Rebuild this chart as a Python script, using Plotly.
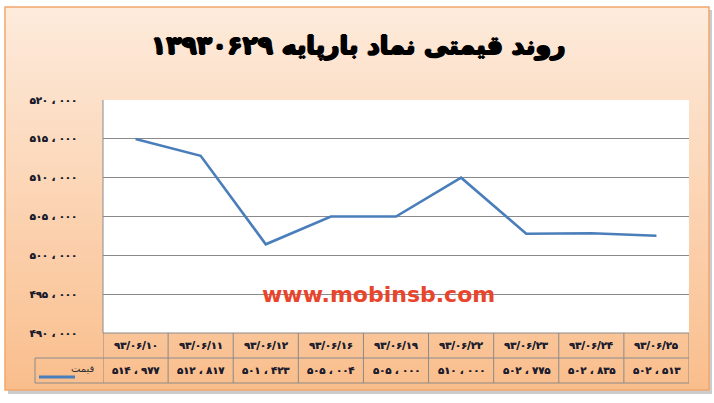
import plotly.graph_objects as go

# ---------------- data ----------------
dates = ["۹۳/۰۶/۱۰", "۹۳/۰۶/۱۱", "۹۳/۰۶/۱۲", "۹۳/۰۶/۱۶", "۹۳/۰۶/۱۹",
         "۹۳/۰۶/۲۲", "۹۳/۰۶/۲۳", "۹۳/۰۶/۲۴", "۹۳/۰۶/۲۵"]
prices = [514977, 512817, 501423, 505004, 505000, 510000, 502775, 502835, 502513]
price_labels = ["۵۱۴ ، ۹۷۷", "۵۱۲ ، ۸۱۷", "۵۰۱ ، ۴۲۳", "۵۰۵ ، ۰۰۴", "۵۰۵ ، ۰۰۰",
                "۵۱۰ ، ۰۰۰", "۵۰۲ ، ۷۷۵", "۵۰۲ ، ۸۳۵", "۵۰۲ ، ۵۱۳"]
y_tickvals = [490000, 495000, 500000, 505000, 510000, 515000, 520000]
y_ticktext = ["۴۹۰ ، ۰۰۰", "۴۹۵ ، ۰۰۰", "۵۰۰ ، ۰۰۰", "۵۰۵ ، ۰۰۰",
              "۵۱۰ ، ۰۰۰", "۵۱۵ ، ۰۰۰", "۵۲۰ ، ۰۰۰"]
series_name = "قیمت"
title_text = "روند قیمتی نماد بارپایه ۱۳۹۳۰۶۲۹"
watermark = "www.mobinsb.com"

# ---------------- geometry helpers (figure px -> paper) ----------------
W, H = 714, 403
L, R, T, B = 103, 689, 99, 334
def px(x):
    return (x - L) / (R - L)
def py(y):
    return (B - y) / (B - T)

FONT = "DejaVu Sans"
LINE_BLUE = "#4A7EBB"
GRID = "#8A8A8A"
TXT = "#1E1E2E"
LIGHT_SH = "0.3px 0 0 {c}"
HEAVY_SH = "1px 0 0 {c}, -1px 0 0 {c}, 0 0.7px 0 {c}, 0 -0.7px 0 {c}"

n = len(dates)
xs = list(range(n))

fig = go.Figure()
fig.add_trace(go.Scatter(x=xs, y=prices, mode="lines", name=series_name,
                         line=dict(color=LINE_BLUE, width=2.6),
                         hoverinfo="skip", showlegend=False))

shapes = []
# shadow
shapes.append(dict(type="rect", xref="paper", yref="paper", layer="below",
                   x0=px(8), x1=px(712), y0=py(394), y1=py(10),
                   fillcolor="#CCCCCC", line=dict(width=0)))
# gradient background
top_c = (253, 235, 220)
bot_c = (250, 190, 140)
y_top, y_bot = 7, 390
N = 48
for i in range(N):
    t = (i + 0.5) / N
    c = tuple(int(round(top_c[k] + (bot_c[k] - top_c[k]) * t)) for k in range(3))
    ya = y_top + (y_bot - y_top) * i / N
    yb = y_top + (y_bot - y_top) * (i + 1) / N + 0.6
    shapes.append(dict(type="rect", xref="paper", yref="paper", layer="below",
                       x0=px(5), x1=px(709), y0=py(min(yb, y_bot)), y1=py(ya),
                       fillcolor="rgb(%d,%d,%d)" % c, line=dict(width=0)))
# outer border
shapes.append(dict(type="rect", xref="paper", yref="paper", layer="below",
                   x0=px(5), x1=px(709), y0=py(390), y1=py(7),
                   fillcolor="rgba(0,0,0,0)", line=dict(color="#F2A66E", width=1.5)))
# white plot area
shapes.append(dict(type="rect", xref="paper", yref="paper", layer="below",
                   x0=0, x1=1, y0=py(333), y1=py(100), fillcolor="white", line=dict(width=0)))

# data table borders
row1_top, row1_bot, row2_bot = 333, 358, 383
tb = dict(color=GRID, width=1)
shapes.append(dict(type="line", xref="paper", yref="paper", layer="above",
                   x0=0, x1=1, y0=py(row1_top), y1=py(row1_top), line=tb))
shapes.append(dict(type="line", xref="paper", yref="paper", layer="above",
                   x0=px(35), x1=1, y0=py(row1_bot), y1=py(row1_bot), line=tb))
shapes.append(dict(type="line", xref="paper", yref="paper", layer="above",
                   x0=px(35), x1=1, y0=py(row2_bot), y1=py(row2_bot), line=tb))
shapes.append(dict(type="line", xref="paper", yref="paper", layer="above",
                   x0=px(35), x1=px(35), y0=py(row1_bot), y1=py(row2_bot), line=tb))
for k in range(n + 1):
    shapes.append(dict(type="line", xref="x", yref="paper", layer="above",
                       x0=k - 0.5, x1=k - 0.5, y0=py(row1_top), y1=py(row2_bot), line=tb))
# left plot-area border
shapes.append(dict(type="line", xref="paper", yref="paper", layer="above",
                   x0=0, x1=0, y0=py(333), y1=py(100), line=tb))
# legend key line
shapes.append(dict(type="line", xref="paper", yref="paper", layer="above",
                   x0=px(39), x1=px(75), y0=py(377), y1=py(377),
                   line=dict(color=LINE_BLUE, width=3)))

annotations = []
annotations.append(dict(text=title_text, xref="paper", yref="paper",
                        x=px(358), y=py(46), showarrow=False,
                        xanchor="center", yanchor="middle",
                        font=dict(family=FONT, size=25, color="#000000", weight="bold",
                                  shadow=HEAVY_SH.format(c="#000"))))
annotations.append(dict(text=watermark, xref="paper", yref="paper",
                        x=px(378), y=py(294), showarrow=False,
                        xanchor="center", yanchor="middle",
                        font=dict(family=FONT, size=22, color="#E8452C", weight="bold")))
for i in range(n):
    annotations.append(dict(text=dates[i], xref="x", yref="paper",
                            x=i, y=py((row1_top + row1_bot) / 2), showarrow=False,
                            xanchor="center", yanchor="middle",
                            font=dict(family=FONT, size=10, color=TXT, weight="bold",
                                      shadow=LIGHT_SH.format(c=TXT))))
    annotations.append(dict(text=price_labels[i], xref="x", yref="paper",
                            x=i, y=py((row1_bot + row2_bot) / 2), showarrow=False,
                            xanchor="center", yanchor="middle",
                            font=dict(family=FONT, size=10, color=TXT, weight="bold",
                                      shadow=LIGHT_SH.format(c=TXT))))
annotations.append(dict(text=series_name, xref="paper", yref="paper",
                        x=px(97), y=py(368), showarrow=False,
                        xanchor="right", yanchor="middle",
                        font=dict(family=FONT, size=10, color="#333333")))

# y range padded by one pixel each side so the 490k/520k gridlines are drawn
ypad = 30000 / 233
fig.update_layout(
    width=W, height=H,
    margin=dict(l=L, r=W - R, t=T, b=H - B, pad=0),
    paper_bgcolor="white", plot_bgcolor="rgba(0,0,0,0)",
    showlegend=False,
    shapes=shapes, annotations=annotations,
    xaxis=dict(range=[-0.5, n - 0.5], showgrid=False, zeroline=False,
               showticklabels=False, showline=False, fixedrange=True),
    yaxis=dict(range=[490000 - ypad, 520000 + ypad], tickvals=y_tickvals, ticktext=y_ticktext,
               showgrid=True, gridcolor=GRID, gridwidth=1, zeroline=False,
               showline=False,
               ticks="", ticklabelstandoff=25,
               tickfont=dict(family=FONT, size=10, color=TXT, weight="bold",
                             shadow=LIGHT_SH.format(c=TXT)),
               fixedrange=True),
)

fig.write_html("out.html",
               config={"displayModeBar": False, "staticPlot": True},
               post_script="document.body.style.margin='0px';document.body.style.overflow='hidden';")
